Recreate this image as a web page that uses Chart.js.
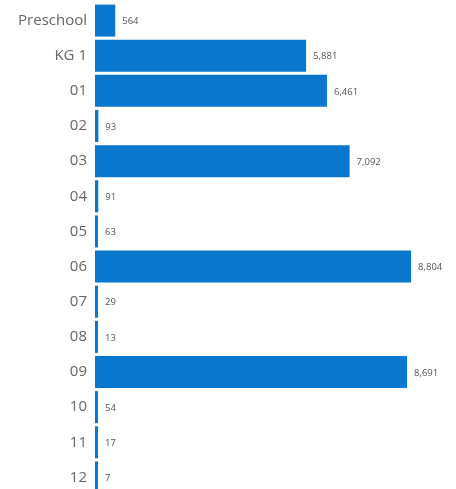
<!DOCTYPE html>
<html>
<head>
<meta charset="utf-8">
<script src="https://cdn.jsdelivr.net/npm/chart.js@4/dist/chart.umd.min.js"></script>
<style>
  html, body { margin: 0; padding: 0; background: #fff; overflow: hidden; }
  #wrap { position: relative; top: -6px; width: 456px; height: 510px; }
</style>
</head>
<body>
<div id="wrap"><canvas id="gradeChart"></canvas></div>
<script>
// Chart data
const grades = ['Preschool', 'KG 1', '01', '02', '03', '04', '05', '06', '07', '08', '09', '10', '11', '12'];
const students = [564, 5881, 6461, 93, 7092, 91, 63, 8804, 29, 13, 8691, 54, 17, 7];

// value labels at the end of each bar
const valueLabels = {
    id: 'valueLabels',
    afterDatasetsDraw(chart) {
        const ctx = chart.ctx;
        const meta = chart.getDatasetMeta(0);
        ctx.save();
        ctx.font = '9.5px "Open Sans", sans-serif';
        ctx.fillStyle = '#555';
        ctx.textAlign = 'left';
        ctx.textBaseline = 'middle';
        meta.data.forEach((bar, i) => {
            ctx.fillText(students[i].toLocaleString('en-US'), bar.x + 7, bar.y + 1);
        });
        ctx.restore();
    }
};

const ctx = document.getElementById('gradeChart').getContext('2d');

new Chart(ctx, {
    type: 'bar',
    data: {
        labels: grades,
        datasets: [{
            data: students,
            backgroundColor: '#0a77cf',
            categoryPercentage: 0.91,
            barPercentage: 1,
            minBarLength: 3
        }]
    },
    options: {
        indexAxis: 'y',
        responsive: true,
        maintainAspectRatio: false,
        animation: false,
        layout: { padding: { top: 3, right: 2, bottom: 0, left: 0 } },
        plugins: {
            legend: { display: false },
            tooltip: { enabled: false }
        },
        scales: {
            x: {
                display: false,
                min: 0,
                max: 10000
            },
            y: {
                grid: { display: false },
                border: { display: false },
                afterFit: (axis) => { axis.width = 95; },
                ticks: {
                    color: '#666',
                    padding: 0,
                    font: { family: '"Open Sans", sans-serif', size: 15 }
                }
            }
        }
    },
    plugins: [valueLabels]
});
</script>
</body>
</html>
